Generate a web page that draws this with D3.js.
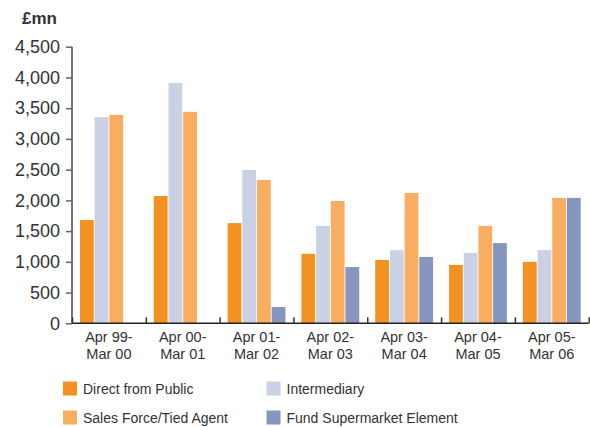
<!DOCTYPE html>
<html><head><meta charset="utf-8">
<script src="https://cdn.jsdelivr.net/npm/d3@7/dist/d3.min.js"></script>
<style>body{margin:0;background:#fff;font-family:"Liberation Sans",Arial,sans-serif;}</style>
</head><body><svg id="c" width="590" height="427"></svg>
<script>
const categories = [["Apr 99-","Mar 00"],["Apr 00-","Mar 01"],["Apr 01-","Mar 02"],["Apr 02-","Mar 03"],["Apr 03-","Mar 04"],["Apr 04-","Mar 05"],["Apr 05-","Mar 06"]];
const seriesNames = ["Direct from Public","Intermediary","Sales Force/Tied Agent","Fund Supermarket Element"];
const seriesColors = ["#F39220","#CBD1E5","#F8AE5E","#8796BF"];
const directFromPublic = [1680,2070,1630,1130,1030,950,1000];
const intermediary = [3355,3910,2495,1585,1190,1145,1190];
const salesForce = [3390,3440,2330,1990,2120,1585,2040];
const fundSupermarket = [0,0,265,915,1080,1305,2040];
const yTicks = [0,500,1000,1500,2000,2500,3000,3500,4000,4500];

const values = [directFromPublic, intermediary, salesForce, fundSupermarket];
const svg = d3.select("#c");
const x0 = d3.scaleBand().domain(d3.range(categories.length)).range([72, 588.7]).padding(0);
const x1 = d3.scaleBand().domain(d3.range(seriesNames.length)).range([8, x0.bandwidth()-8]).paddingInner(0.06);
const y = d3.scaleLinear().domain([0,4500]).range([323.3, 46.7]);

// bars
const g = svg.append("g");
categories.forEach((c, i) => {
  values.forEach((vals, s) => {
    g.append("rect")
      .attr("x", x0(i) + x1(s))
      .attr("y", y(vals[i]))
      .attr("width", x1.bandwidth())
      .attr("height", Math.max(0, y(0) - y(vals[i])))
      .attr("fill", seriesColors[s]);
  });
});

// y axis
const yAxis = svg.append("g").attr("transform","translate(72,0)")
  .call(d3.axisLeft(y).tickValues(yTicks).tickSize(6).tickPadding(6).tickFormat(d3.format(",")));
yAxis.select(".domain").attr("stroke","#666").attr("stroke-width",1.8).attr("d","M0,"+y(4500)+"V"+y(0));
yAxis.selectAll(".tick line").attr("stroke","#666").attr("stroke-width",1.5);
yAxis.selectAll(".tick text").attr("fill","#333").style("font-size","18px").style("font-family","Liberation Sans, Arial, sans-serif");

// x axis
const xAxis = svg.append("g").attr("transform","translate(0,"+y(0)+")")
  .call(d3.axisBottom(d3.scaleLinear().domain([0,7]).range([72,588.7])).tickValues(d3.range(0,8)).tickSize(-6).tickFormat(""));
xAxis.select(".domain").attr("stroke","#222").attr("stroke-width",1.6).attr("d","M72,0H588.7");
xAxis.selectAll(".tick line").attr("stroke","#333").attr("stroke-width",1.5);

// category labels
categories.forEach((c, i) => {
  const t = svg.append("text").attr("x", x0(i) + x0.bandwidth()/2).attr("y", 342)
    .attr("text-anchor","middle").attr("fill","#333").style("font-size","14.5px");
  t.append("tspan").attr("x", x0(i) + x0.bandwidth()/2).attr("dy",0).text(c[0]);
  t.append("tspan").attr("x", x0(i) + x0.bandwidth()/2).attr("dy",16.5).text(c[1]);
});

// unit label
svg.append("text").attr("x",22).attr("y",24).attr("fill","#333").style("font-size","17px").style("font-weight","bold").text("£mn");

// legend
const legPos = [[63,381.5],[266.5,381.5],[63,410.5],[266.5,410.5]];
seriesNames.forEach((n, s) => {
  svg.append("rect").attr("x",legPos[s][0]).attr("y",legPos[s][1]).attr("width",14).attr("height",14).attr("fill",seriesColors[s]);
  svg.append("text").attr("x",legPos[s][0]+20).attr("y",legPos[s][1]+12.5).attr("fill","#333").style("font-size","14px").text(n);
});
</script></body></html>
